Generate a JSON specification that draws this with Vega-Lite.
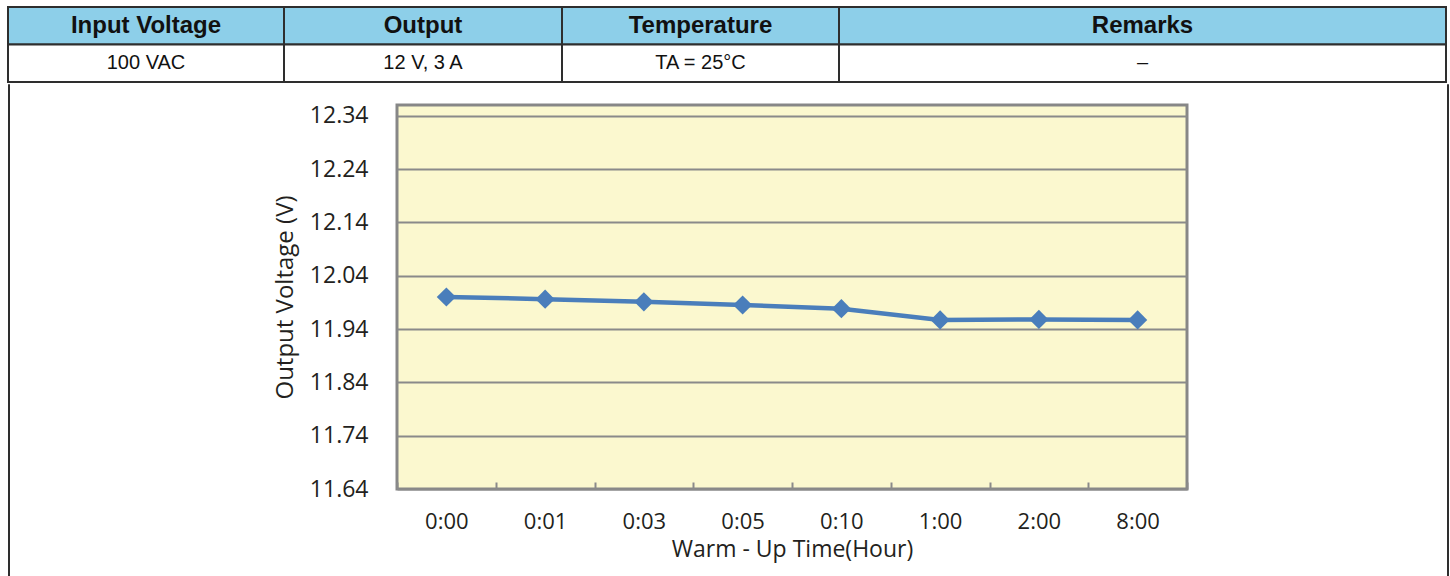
{
  "$schema": "https://vega.github.io/schema/vega-lite/v6.json",
  "background": "white",
  "padding": {"left": 7, "top": 6, "right": 0, "bottom": 0},
  "config": {"view": {"stroke": null}},
  "spacing": 0,
  "vconcat": [
    {
      "spacing": 0,
      "bounds": "flush",
      "hconcat": [
        {
          "width": 276, "height": 75,
          "data": {"values": [{"row": "header", "text": "Input Voltage"}, {"row": "value", "text": "100 VAC"}]},
          "encoding": {"y": {"field": "row", "type": "nominal", "sort": ["header", "value"], "scale": {"paddingInner": 0, "paddingOuter": 0}, "axis": null}},
          "layer": [
            {"mark": {"type": "rect", "stroke": "#2E2E2E", "strokeWidth": 2}, "encoding": {"fill": {"field": "row", "type": "nominal", "scale": {"domain": ["header", "value"], "range": ["#8DCFE9", "#FFFFFF"]}, "legend": null}}},
            {"transform": [{"filter": "datum.row == 'header'"}], "mark": {"type": "text", "font": "Liberation Sans", "fontSize": 24, "fontWeight": "bold", "color": "#111111"}, "encoding": {"text": {"field": "text"}}},
            {"transform": [{"filter": "datum.row == 'value'"}], "mark": {"type": "text", "font": "Liberation Sans", "fontSize": 20, "color": "#111111"}, "encoding": {"text": {"field": "text"}}}
          ]
        },
        {
          "width": 278, "height": 75,
          "data": {"values": [{"row": "header", "text": "Output"}, {"row": "value", "text": "12 V, 3 A"}]},
          "encoding": {"y": {"field": "row", "type": "nominal", "sort": ["header", "value"], "scale": {"paddingInner": 0, "paddingOuter": 0}, "axis": null}},
          "layer": [
            {"mark": {"type": "rect", "stroke": "#2E2E2E", "strokeWidth": 2}, "encoding": {"fill": {"field": "row", "type": "nominal", "scale": {"domain": ["header", "value"], "range": ["#8DCFE9", "#FFFFFF"]}, "legend": null}}},
            {"transform": [{"filter": "datum.row == 'header'"}], "mark": {"type": "text", "font": "Liberation Sans", "fontSize": 24, "fontWeight": "bold", "color": "#111111"}, "encoding": {"text": {"field": "text"}}},
            {"transform": [{"filter": "datum.row == 'value'"}], "mark": {"type": "text", "font": "Liberation Sans", "fontSize": 20, "color": "#111111"}, "encoding": {"text": {"field": "text"}}}
          ]
        },
        {
          "width": 277, "height": 75,
          "data": {"values": [{"row": "header", "text": "Temperature"}, {"row": "value", "text": "TA = 25°C"}]},
          "encoding": {"y": {"field": "row", "type": "nominal", "sort": ["header", "value"], "scale": {"paddingInner": 0, "paddingOuter": 0}, "axis": null}},
          "layer": [
            {"mark": {"type": "rect", "stroke": "#2E2E2E", "strokeWidth": 2}, "encoding": {"fill": {"field": "row", "type": "nominal", "scale": {"domain": ["header", "value"], "range": ["#8DCFE9", "#FFFFFF"]}, "legend": null}}},
            {"transform": [{"filter": "datum.row == 'header'"}], "mark": {"type": "text", "font": "Liberation Sans", "fontSize": 24, "fontWeight": "bold", "color": "#111111"}, "encoding": {"text": {"field": "text"}}},
            {"transform": [{"filter": "datum.row == 'value'"}], "mark": {"type": "text", "font": "Liberation Sans", "fontSize": 20, "color": "#111111"}, "encoding": {"text": {"field": "text"}}}
          ]
        },
        {
          "width": 607, "height": 75,
          "data": {"values": [{"row": "header", "text": "Remarks"}, {"row": "value", "text": "–"}]},
          "encoding": {"y": {"field": "row", "type": "nominal", "sort": ["header", "value"], "scale": {"paddingInner": 0, "paddingOuter": 0}, "axis": null}},
          "layer": [
            {"mark": {"type": "rect", "stroke": "#2E2E2E", "strokeWidth": 2}, "encoding": {"fill": {"field": "row", "type": "nominal", "scale": {"domain": ["header", "value"], "range": ["#8DCFE9", "#FFFFFF"]}, "legend": null}}},
            {"transform": [{"filter": "datum.row == 'header'"}], "mark": {"type": "text", "font": "Liberation Sans", "fontSize": 24, "fontWeight": "bold", "color": "#111111"}, "encoding": {"text": {"field": "text"}}},
            {"transform": [{"filter": "datum.row == 'value'"}], "mark": {"type": "text", "font": "Liberation Sans", "fontSize": 20, "color": "#111111"}, "encoding": {"text": {"field": "text"}}}
          ]
        }
      ]
    },
    {
      "spacing": 0,
      "hconcat": [
        {
          "width": 1, "height": 500,
          "view": {"stroke": "#2E2E2E", "strokeWidth": 1},
          "data": {"values": []},
          "mark": "point"
        },
        {
          "spacing": 0,
          "vconcat": [
            {
              "width": 1, "height": 19,
              "data": {"values": []},
              "mark": "point"
            },
            {
              "spacing": 0,
              "bounds": "flush",
              "hconcat": [
                {
                  "width": 387, "height": 384,
                  "data": {"values": []},
                  "mark": "point"
                },
                {
                  "width": 790, "height": 384,
                  "view": {"fill": "#FBF8CF", "stroke": "#878787", "strokeWidth": 3},
                  "data": {"values": [
                    {"time": "0:00", "voltage": 12.000},
                    {"time": "0:01", "voltage": 11.996},
                    {"time": "0:03", "voltage": 11.991},
                    {"time": "0:05", "voltage": 11.985},
                    {"time": "0:10", "voltage": 11.978},
                    {"time": "1:00", "voltage": 11.957},
                    {"time": "2:00", "voltage": 11.958},
                    {"time": "8:00", "voltage": 11.957}
                  ]},
                  "encoding": {
                    "x": {
                      "field": "time", "type": "nominal", "sort": null,
                      "scale": {"type": "band", "paddingInner": 0, "paddingOuter": 0},
                      "axis": {
                        "title": "Warm - Up Time(Hour)", "labelAngle": 0,
                        "labelFont": "Open Sans", "labelFontSize": 22, "labelColor": "#231F20", "labelPadding": 29,
                        "tickBand": "extent", "ticks": true, "tickSize": -7, "tickColor": "#8A8A8A", "tickWidth": 2,
                        "domain": false, "grid": false,
                        "titleFont": "Open Sans", "titleFontSize": 23, "titleFontWeight": "normal", "titleColor": "#231F20", "titlePadding": 6
                      }
                    },
                    "y": {
                      "field": "voltage", "type": "quantitative",
                      "scale": {"domain": [11.64, 12.36], "nice": false, "zero": false},
                      "axis": {
                        "title": "Output Voltage (V)",
                        "values": [11.64, 11.74, 11.84, 11.94, 12.04, 12.14, 12.24, 12.34],
                        "format": ".2f",
                        "grid": true, "gridColor": "#8A8A8A", "gridWidth": 2,
                        "domain": false, "ticks": false, "tickSize": 0,
                        "labelFont": "Open Sans", "labelFontSize": 23, "labelColor": "#231F20", "labelPadding": 29,
                        "titleFont": "Open Sans", "titleFontSize": 24, "titleFontWeight": "normal", "titleColor": "#231F20", "titlePadding": 12
                      }
                    }
                  },
                  "layer": [
                    {"mark": {"type": "line", "color": "#4A7EBB", "strokeWidth": 4.5}},
                    {"mark": {"type": "point", "shape": "diamond", "filled": true, "size": 370, "color": "#4A7EBB", "opacity": 1}}
                  ]
                },
                {
                  "width": 259, "height": 384,
                  "data": {"values": []},
                  "mark": "point"
                }
              ]
            }
          ]
        },
        {
          "width": 1, "height": 500,
          "view": {"stroke": "#2E2E2E", "strokeWidth": 1},
          "data": {"values": []},
          "mark": "point"
        }
      ]
    }
  ]
}
